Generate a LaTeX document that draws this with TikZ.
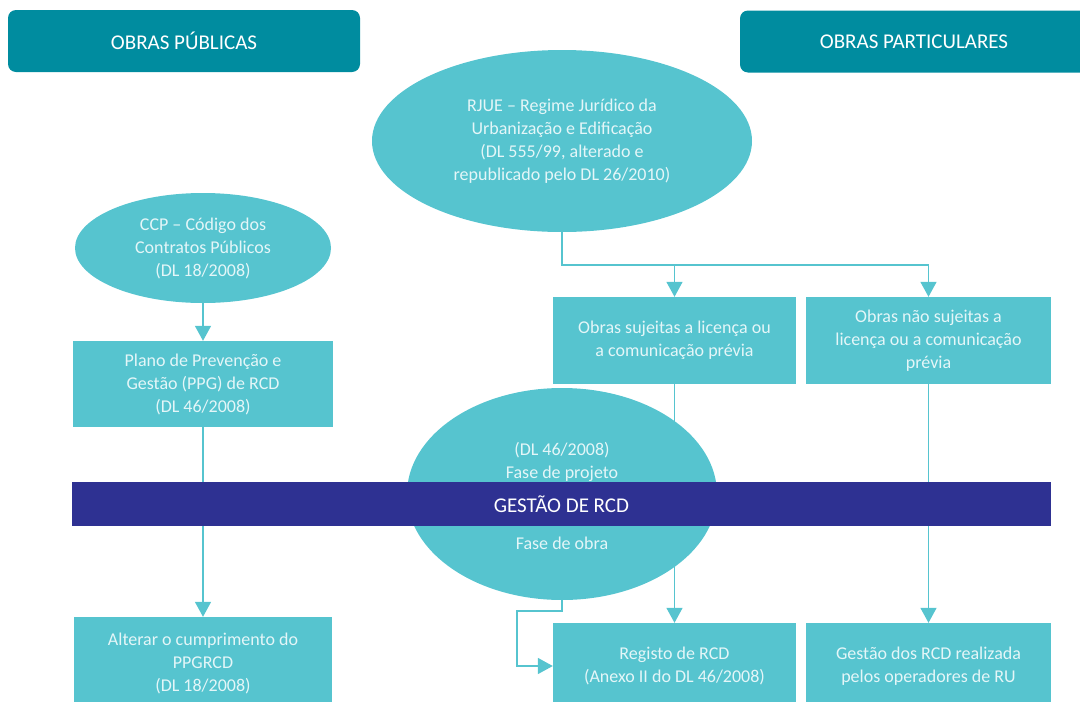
\documentclass[tikz,border=0pt]{standalone}
\usepackage{fontspec}
\setmainfont{Carlito}
\usetikzlibrary{shapes.geometric,arrows.meta,calc}
\definecolor{tealfill}{HTML}{56C4CF}
\definecolor{hdr}{HTML}{008C9F}
\definecolor{band}{HTML}{2E3192}
\definecolor{pale}{HTML}{E4F6F8}
\tikzset{
 hdrbox/.style={fill=hdr, rounded corners=8pt, text=white, font=\fontsize{21}{25}\selectfont, inner sep=0},
 box/.style={fill=tealfill, text=pale, align=center, font=\fontsize{18}{23}\selectfont, inner sep=0},
 oval/.style={ellipse, fill=tealfill, text=pale, align=center, font=\fontsize{18}{23}\selectfont, inner sep=0},
 txt/.style={text=pale, align=center, font=\fontsize{18}{23}\selectfont, inner sep=0},
 conn/.style={draw=tealfill, line width=1.5pt},
 arr/.style={conn, -{Triangle[width=16pt,length=15pt]}},
}
\begin{document}
\begin{tikzpicture}[x=1pt,y=-1pt]
\useasboundingbox (0,0) rectangle (1080,702);
% headers
\node[hdrbox, minimum width=352pt, minimum height=62pt] (hl) at (184,41) {OBRAS PÚBLICAS};
\node[hdrbox, minimum width=348pt, minimum height=62pt] (hr) at (914,41.5) {OBRAS PARTICULARES};
% ellipses and boxes
\node[oval, minimum width=380pt, minimum height=182pt] (rjue) at (562,141)
  {RJUE – Regime Jurídico da\\Urbanização e Edificação\\(DL 555/99, alterado e\\republicado pelo DL 26/2010)};
\node[oval, minimum width=256pt, minimum height=110pt] (ccp) at (203,248)
  {CCP – Código dos\\Contratos Públicos\\(DL 18/2008)};
\node[box, minimum width=260pt, minimum height=86pt] (ppg) at (203,384)
  {Plano de Prevenção e\\Gestão (PPG) de RCD\\(DL 46/2008)};
\node[box, minimum width=258pt, minimum height=93pt] (alt) at (203,663.5)
  {Alterar o cumprimento do\\PPGRCD\\(DL 18/2008)};
\node[box, minimum width=243pt, minimum height=87pt] (suj) at (674.5,340.5)
  {Obras sujeitas a licença ou\\a comunicação prévia};
\node[box, minimum width=245pt, minimum height=87pt] (nao) at (928.5,340.5)
  {Obras não sujeitas a\\licença ou a comunicação\\prévia};
\node[box, minimum width=243pt, minimum height=86pt] (reg) at (674.5,666)
  {Registo de RCD\\(Anexo II do DL 46/2008)};
\node[box, minimum width=245pt, minimum height=86pt] (gru) at (928.5,666)
  {Gestão dos RCD realizada\\pelos operadores de RU};
% connectors
\coordinate (j) at (562,265);
\draw[conn] (rjue.south) -- (j) -- (j -| nao.north);
\draw[arr] (j -| suj.north) -- (suj.north);
\draw[arr] (j -| nao.north) -- (nao.north);
\draw[arr] (ccp.south) -- (ppg.north);
\draw[arr] (ppg.south) -- (alt.north);
\draw[arr] (suj.south) -- (reg.north);
\draw[arr] (nao.south) -- (gru.north);
% central ellipse
\node[oval, minimum width=310pt, minimum height=212pt] (gest) at (562,494) {};
\node[txt] (gt1) at (562,461.5) {(DL 46/2008)\\Fase de projeto};
\node[txt] (gt2) at (562,543) {Fase de obra};
\coordinate (k) at (517,611);
\draw[arr] (gest.south) |- (k) |- (reg.west);
% banner
\node[fill=band, text=white, font=\fontsize{21}{25}\selectfont, minimum width=979pt, minimum height=44pt, inner sep=0] (banner) at (561.5,504) {GESTÃO DE RCD};
\end{tikzpicture}
\end{document}
